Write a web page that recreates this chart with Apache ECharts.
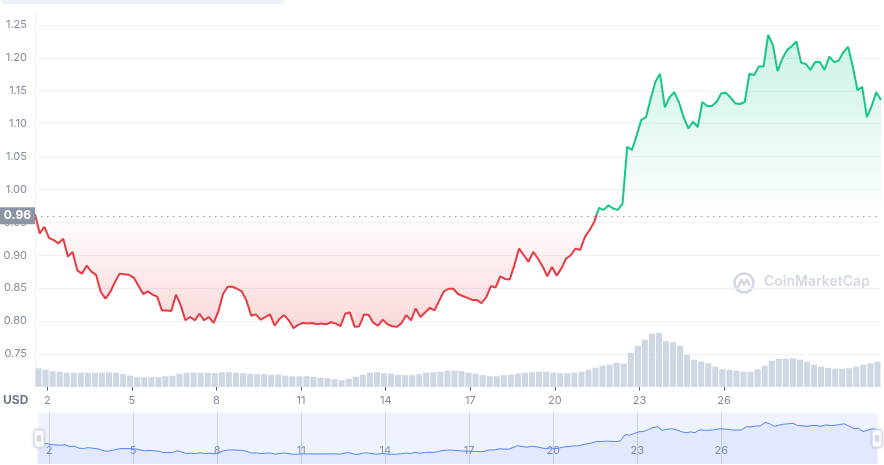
<!DOCTYPE html>
<html>
<head>
<meta charset="utf-8">
<script src="https://cdn.jsdelivr.net/npm/echarts@6/dist/echarts.min.js"></script>
<style>
html,body{margin:0;padding:0;background:#fff;}
#chart{width:884px;height:465px;}
</style>
</head>
<body>
<div id="chart"></div>
<script>
// ---- data ----
const START_DAY = 1.564;          // day-of-month of first sample
const STEP_DAYS = 1 / 6;          // 4-hour samples
const BASELINE = 0.9627;          // opening price (dotted reference line)
const dayLabels = [2, 5, 8, 11, 14, 17, 20, 23, 26];
const yTicks = [0.75, 0.80, 0.85, 0.90, 0.95, 1.00, 1.05, 1.10, 1.15, 1.20, 1.25];

const price = [
0.9627,0.933,0.943,0.926,0.923,0.918,0.925,0.898,0.905,0.877,
0.872,0.884,0.875,0.870,0.844,0.834,0.844,0.859,0.872,0.871,
0.870,0.866,0.854,0.841,0.845,0.840,0.837,0.816,0.816,0.815,
0.840,0.824,0.801,0.806,0.801,0.811,0.801,0.806,0.797,0.814,
0.841,0.852,0.852,0.849,0.845,0.831,0.808,0.810,0.802,0.806,
0.810,0.793,0.803,0.809,0.801,0.789,0.794,0.797,0.796,0.797,
0.795,0.796,0.795,0.798,0.796,0.792,0.811,0.813,0.791,0.792,
0.810,0.809,0.797,0.793,0.802,0.795,0.792,0.791,0.797,0.809,
0.801,0.819,0.806,0.813,0.820,0.816,0.831,0.845,0.849,0.849,
0.841,0.838,0.835,0.832,0.832,0.827,0.836,0.853,0.851,0.868,
0.864,0.863,0.885,0.910,0.900,0.890,0.905,0.895,0.883,0.868,
0.882,0.869,0.880,0.895,0.900,0.910,0.908,0.928,0.938,0.951,
0.972,0.969,0.976,0.971,0.969,0.978,1.065,1.060,1.082,1.106,
1.110,1.138,1.164,1.176,1.125,1.140,1.148,1.133,1.110,1.093,
1.103,1.095,1.133,1.127,1.127,1.133,1.146,1.147,1.140,1.131,
1.130,1.133,1.176,1.174,1.187,1.187,1.235,1.220,1.180,1.199,
1.212,1.218,1.225,1.193,1.191,1.182,1.194,1.194,1.182,1.202,
1.194,1.196,1.209,1.217,1.187,1.151,1.156,1.110,1.127,1.148,
1.136
];

// volume (6-hour buckets, arbitrary units)
const volume = [
185,170,155,150,140,140,140,140,140,140,
145,140,125,110,95,95,95,95,105,110,
130,140,140,140,140,135,145,145,140,135,
130,125,125,120,120,110,105,105,105,100,
90,85,75,65,80,100,120,140,145,135,
130,120,115,115,125,140,145,150,160,160,
155,140,130,115,105,105,115,120,130,140,
145,150,150,140,135,135,140,150,170,190,
210,220,240,230,340,410,470,530,540,455,
445,410,320,270,250,235,200,175,170,160,
150,150,175,210,260,280,280,285,270,250,
220,200,190,180,180,185,200,220,235,250
];
const VOLUME_AXIS_MAX = 3734;

// ---- build ----
const priceData = price.map((v, i) => [START_DAY + i * STEP_DAYS, v]);
const endDay = START_DAY + (price.length - 1) * STEP_DAYS;
const pMax = Math.max(...price), pMin = Math.min(...price);
const pSplit = (pMax - BASELINE) / (pMax - pMin);
const pad = (pMax - pMin) * 0.3;
const GREEN = '#16c784', RED = '#ea3943';

const chart = echarts.init(document.getElementById('chart'), null, {renderer: 'canvas'});
const FONT = 'Inter, "Noto Sans", sans-serif';

const option = {
  animation: false,
  backgroundColor: '#ffffff',
  textStyle: {fontFamily: FONT},
  graphic: [
    {type: 'rect', left: 0, top: -6, shape: {x: 0, y: -6, width: 285, height: 10, r: 5}, style: {fill: '#eff2f5'}, silent: true},
    {type: 'text', left: 3, top: 394, style: {text: 'USD', fill: '#6f7787', font: 'bold 12px ' + FONT}, silent: true},
    {type: 'group', left: 732, top: 271, silent: true, children: [
      {type: 'circle', shape: {cx: 11, cy: 11, r: 9.5}, style: {fill: 'none', stroke: '#d3d9e4', lineWidth: 2.6}},
      {type: 'polyline', shape: {points: [[5, 15], [8.5, 7.5], [11, 13], [14, 7.5], [16.5, 13]]}, style: {fill: 'none', stroke: '#d3d9e4', lineWidth: 2.4, lineJoin: 'round', lineCap: 'round'}},
      {type: 'text', x: 31, y: 3, style: {text: 'CoinMarketCap', fill: '#d3d9e4', font: '600 14px ' + FONT}}
    ]}
  ],
  grid: [
    {left: 35, right: 3, top: 13.3, bottom: 78.3},
    {left: 37, right: 7, top: 413, height: 51}
  ],
  xAxis: [
    {
      type: 'value', gridIndex: 0, min: START_DAY, max: endDay,
      axisLine: {show: true, lineStyle: {color: '#eff2f5', width: 1}},
      axisTick: {show: true, customValues: dayLabels, length: 4, lineStyle: {color: '#58667e'}},
      axisLabel: {customValues: dayLabels, formatter: v => String(Math.round(v)), color: '#808a9d', fontSize: 11, margin: 8, fontFamily: FONT},
      splitLine: {show: false}
    },
    {type: 'category', gridIndex: 0, data: volume.map((_, i) => i), show: false, boundaryGap: true},
    {
      type: 'value', gridIndex: 1, min: START_DAY, max: endDay,
      axisLine: {show: false},
      axisTick: {show: true, inside: true, customValues: dayLabels, length: 51, lineStyle: {color: '#d3dbf1'}},
      axisLabel: {inside: true, customValues: dayLabels, formatter: v => String(Math.round(v)), color: '#8c95a8', fontSize: 11, margin: 8, fontFamily: FONT},
      splitLine: {show: false}
    }
  ],
  yAxis: [
    {
      type: 'value', gridIndex: 0, min: 0.70, max: 1.268, interval: 0.05,
      axisLine: {show: true, lineStyle: {color: '#eff2f5'}},
      axisTick: {show: false},
      axisLabel: {
        color: '#808a9d', fontSize: 11, margin: 8, fontFamily: FONT,
        showMinLabel: false, showMaxLabel: false,
        formatter: v => yTicks.some(t => Math.abs(t - v) < 1e-6) ? v.toFixed(2) : ''
      },
      splitLine: {show: true, showMaxLine: false, lineStyle: {color: '#eff2f5', width: 1}}
    },
    {type: 'value', gridIndex: 0, min: 0, max: VOLUME_AXIS_MAX, show: false, splitLine: {show: false}},
    {type: 'value', gridIndex: 1, min: pMin - pad, max: pMax + pad, show: false, splitLine: {show: false}}
  ],
  dataZoom: [{
    type: 'slider', xAxisIndex: 2, filterMode: 'none', start: 0, end: 100,
    left: 37, right: 7, top: 413, height: 51,
    showDataShadow: false, showDetail: false, brushSelect: false, moveHandleSize: 0,
    backgroundColor: 'transparent', borderColor: 'transparent',
    fillerColor: 'rgba(56,97,251,0.08)',
    handleIcon: 'path://M2,0h6a2,2,0,0,1,2,2v13a2,2,0,0,1,-2,2h-6a2,2,0,0,1,-2,-2v-13a2,2,0,0,1,2,-2Z M3.8,5.5h0.4v6h-0.4Z M5.8,5.5h0.4v6h-0.4Z',
    handleSize: '34%',
    handleStyle: {color: '#ffffff', borderColor: '#cfd6e4', borderWidth: 1, shadowBlur: 3, shadowColor: 'rgba(0,0,0,0.15)'},
    emphasis: {handleStyle: {color: '#ffffff', borderColor: '#cfd6e4'}}
  }],
  series: [
    {
      type: 'line', xAxisIndex: 0, yAxisIndex: 0, data: priceData,
      showSymbol: false, silent: true, z: 3,
      lineStyle: {
        width: 2,
        color: new echarts.graphic.LinearGradient(0, 0, 0, 1, [
          {offset: 0, color: GREEN},
          {offset: pSplit, color: GREEN},
          {offset: pSplit, color: RED},
          {offset: 1, color: RED}
        ])
      },
      areaStyle: {
        origin: BASELINE,
        color: new echarts.graphic.LinearGradient(0, 0, 0, 1, [
          {offset: 0, color: 'rgba(22,199,132,0.32)'},
          {offset: pSplit, color: 'rgba(22,199,132,0.01)'},
          {offset: pSplit, color: 'rgba(234,57,67,0.01)'},
          {offset: 1, color: 'rgba(234,57,67,0.28)'}
        ])
      },
      markLine: {
        silent: true, symbol: ['none', 'none'],
        lineStyle: {color: '#9aa1ae', type: [1.5, 4.5], width: 1},
        label: {
          position: 'start', distance: 0, formatter: BASELINE.toFixed(2),
          color: '#ffffff', fontWeight: 'bold', fontSize: 12, fontFamily: FONT,
          backgroundColor: '#8d94a5', padding: [3, 4, 2, 5]
        },
        emphasis: {disabled: true},
        data: [{yAxis: BASELINE}]
      }
    },
    {
      type: 'bar', xAxisIndex: 1, yAxisIndex: 1, data: volume,
      barCategoryGap: '14%', silent: true, z: 1,
      itemStyle: {color: '#cfd6e4'}
    },
    {
      type: 'line', xAxisIndex: 2, yAxisIndex: 2, data: priceData,
      showSymbol: false, silent: true,
      lineStyle: {width: 1, color: '#5b86f7'},
      areaStyle: {origin: 'start', color: 'rgba(56,97,251,0.10)'}
    }
  ]
};
chart.setOption(option);
</script>
</body>
</html>
